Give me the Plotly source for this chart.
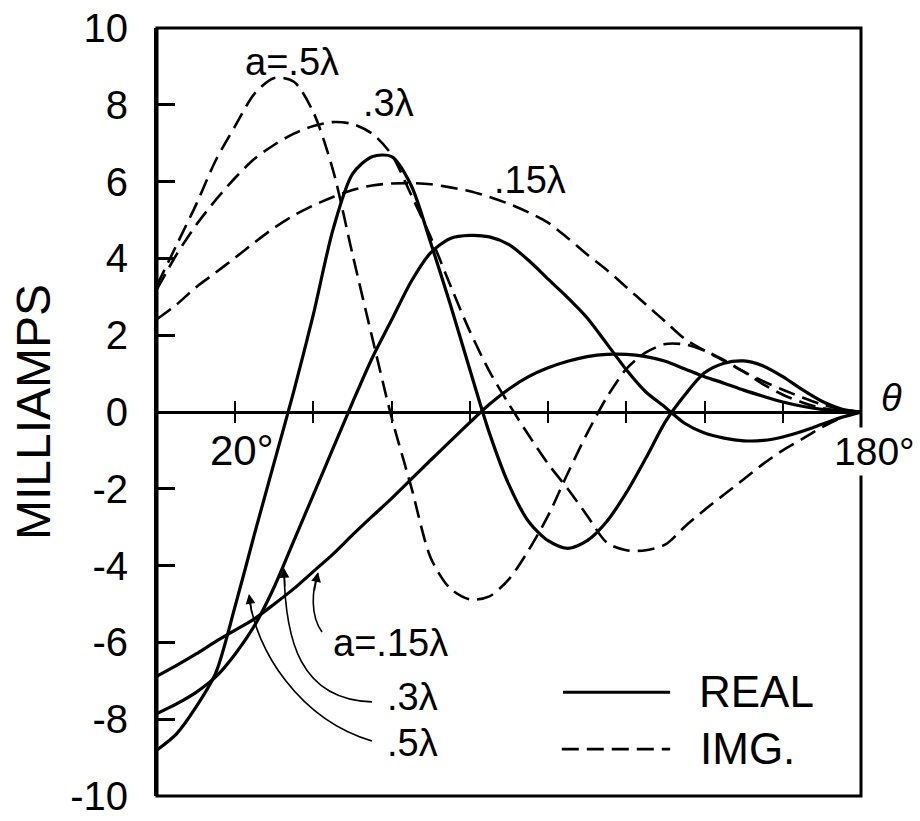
import plotly.graph_objects as go

# ---------------- data ----------------
theta = list(range(0, 181, 5))  # degrees

real_05 = [-8.8, -8.38, -7.68, -6.8, -5.05, -3.15, -1.3, 0.55, 2.55, 4.75, 6.2, 6.65,
           6.65, 5.9, 4.4, 2.8, 1.1, -0.55, -1.9, -2.85, -3.35, -3.55, -3.35, -2.85,
           -2.1, -1.2, -0.25, 0.45, 1.02, 1.27, 1.33, 1.2, 0.92, 0.58, 0.28, 0.08, 0.0]
real_03 = [-7.85, -7.6, -7.3, -6.9, -6.3, -5.55, -4.55, -3.35, -2.15, -0.95, 0.25, 1.4,
           2.4, 3.4, 4.15, 4.52, 4.6, 4.56, 4.36, 3.95, 3.46, 2.98, 2.45, 1.78,
           1.1, 0.52, 0.12, -0.3, -0.55, -0.68, -0.75, -0.74, -0.65, -0.5, -0.32, -0.14, 0.0]
real_015 = [-6.88, -6.6, -6.3, -5.98, -5.68, -5.38, -5.0, -4.6, -4.15, -3.7, -3.2, -2.72,
            -2.25, -1.75, -1.25, -0.76, -0.27, 0.2, 0.6, 0.92, 1.15, 1.32, 1.44, 1.5,
            1.5, 1.44, 1.32, 1.12, 0.92, 0.75, 0.57, 0.41, 0.26, 0.15, 0.07, 0.02, 0.0]
img_05 = [3.3, 4.35, 5.4, 6.55, 7.45, 8.3, 8.7, 8.6, 7.8, 6.3, 4.1, 1.95,
          -0.15, -1.95, -3.8, -4.6, -4.88, -4.8, -4.35, -3.6, -2.7, -1.6, -0.55, 0.38,
          1.12, 1.55, 1.77, 1.76, 1.6, 1.35, 1.05, 0.72, 0.45, 0.25, 0.1, 0.03, 0.0]
img_03 = [3.2, 4.1, 4.87, 5.52, 6.1, 6.6, 6.96, 7.25, 7.45, 7.55, 7.5, 7.25,
          6.7, 5.65, 4.55, 3.3, 2.1, 1.06, 0.2, -0.6, -1.35, -2.0, -2.7, -3.4,
          -3.6, -3.6, -3.45, -2.98, -2.55, -2.15, -1.75, -1.35, -1.0, -0.7, -0.4, -0.15, 0.0]
img_015 = [2.42, 2.8, 3.25, 3.63, 4.02, 4.42, 4.8, 5.12, 5.38, 5.6, 5.78, 5.9,
           5.95, 5.96, 5.93, 5.85, 5.75, 5.6, 5.42, 5.2, 4.93, 4.53, 4.1, 3.7,
           3.25, 2.8, 2.35, 1.9, 1.6, 1.33, 1.05, 0.8, 0.58, 0.38, 0.2, 0.07, 0.0]

y_tick_vals = [10, 8, 6, 4, 2, 0, -2, -4, -6, -8, -10]
y_tick_text = ["10", "8", "6", "4", "2", "0", "-2", "-4", "-6", "-8", "-10"]
x_tick_vals = [20, 40, 60, 80, 100, 120, 140, 160]
x_labels = ["20°", "180°"]

FONT = "Liberation Sans, Arial, sans-serif"
DASH = "17px,8px"

fig = go.Figure()
series = [
    (real_05, "solid", 3.2), (real_03, "solid", 3.2), (real_015, "solid", 3.2),
    (img_05, DASH, 2.6), (img_03, DASH, 2.6), (img_015, DASH, 2.6),
]
for ys, dash, w in series:
    fig.add_trace(go.Scatter(x=theta, y=ys, mode="lines",
                             line=dict(color="black", width=w, dash=dash,
                                       shape="spline", smoothing=0.8),
                             hoverinfo="skip", showlegend=False))

shapes = [
    dict(type="rect", xref="paper", yref="paper", x0=0, y0=0, x1=1, y1=1,
         line=dict(color="black", width=3), layer="above"),
    # leader lines for the lower labels
    dict(type="path", xref="x", yref="y",
         path="M 54.97,-7.55 C 36.56,-7.5 32.73,-5.94 32.47,-4.1",
         line=dict(color="black", width=1.6)),
    dict(type="path", xref="x", yref="y",
         path="M 54.97,-8.57 C 36.56,-8.02 25.06,-6.2 23.52,-4.78",
         line=dict(color="black", width=1.6)),
    dict(type="path", xref="x", yref="y",
         path="M 42.19,-5.73 C 39.12,-5.29 39.63,-4.64 41.17,-4.2",
         line=dict(color="black", width=1.6)),
    # legend samples
    dict(type="line", xref="x", yref="y", x0=103.8, x1=131.2, y0=-7.3, y1=-7.3,
         line=dict(color="black", width=3)),
    dict(type="line", xref="x", yref="y", x0=103.5, x1=131.2, y0=-8.78, y1=-8.78,
         line=dict(color="black", width=2.6, dash=DASH)),
]

ann = []
def txt(x, y, s, size=38, xanchor="center", xref="x", yref="y", **kw):
    ann.append(dict(x=x, y=y, xref=xref, yref=yref, text=s, showarrow=False,
                    xanchor=xanchor, yanchor="middle",
                    font=dict(family=FONT, size=size, color="black"), **kw))

txt(34.5, 9.11, "a=.5λ")
txt(59.1, 8.05, ".3λ")
txt(95.4, 6.04, ".15λ")
txt(59.6, -6.02, "a=.15λ")
txt(65.2, -7.42, ".3λ")
txt(65.2, -8.62, ".5λ")
txt(138.1, -7.27, "REAL", size=44, xanchor="left")
txt(138.3, -8.76, "IMG.", size=44, xanchor="left")
txt(21.7, -1.0, x_labels[0], size=42)
# labels beyond the right edge of the axes (paper coordinates)
txt(1.044, 0.518, "<i>θ</i>", size=38, xref="paper", yref="paper")
txt(1.0185, 0.449, x_labels[1], size=39, xref="paper", yref="paper",
    bgcolor="white", borderpad=2)

# arrow heads
for (x, y, ax, ay) in [(32.47, -4.06, 1, 20), (23.52, -4.74, 3, 20), (41.17, -4.17, -4, 20)]:
    ann.append(dict(x=x, y=y, xref="x", yref="y", text="", showarrow=True,
                    arrowhead=2, arrowsize=1.3, arrowwidth=1.5, arrowcolor="black",
                    ax=ax, ay=ay, standoff=0))

# y axis title
ann.append(dict(xref="paper", yref="paper", x=0, y=0.5, xshift=-124, text="MILLIAMPS",
                textangle=-90, showarrow=False, xanchor="center", yanchor="middle",
                font=dict(family=FONT, size=48, color="black")))

fig.update_layout(
    template="none",
    width=920, height=821,
    margin=dict(l=157, r=59, t=28, b=25, autoexpand=False),
    paper_bgcolor="white", plot_bgcolor="white",
    showlegend=False,
    shapes=shapes, annotations=ann,
    xaxis=dict(range=[0, 180], anchor="free", position=0.5 - 11 / 768,
               tickvals=x_tick_vals, ticks="inside", ticklen=22, tickwidth=2,
               tickcolor="black", showticklabels=False, showgrid=False,
               zeroline=False, showline=False, automargin=False),
    yaxis=dict(range=[-10, 10], tickvals=y_tick_vals, ticktext=y_tick_text,
               ticks="inside", ticklen=18, tickwidth=3, tickcolor="black",
               ticklabelstandoff=18, automargin=False, ticklabeloverflow="allow",
               tickfont=dict(family=FONT, size=40, color="black"),
               showgrid=False, zeroline=True, zerolinecolor="black", zerolinewidth=3,
               showline=True, linecolor="black", linewidth=3),
)

# remove the default page margin so the 920x821 figure fills the window exactly
fig.write_html("out.html", config={"displayModeBar": False},
               post_script="document.body.style.margin='0px';")
